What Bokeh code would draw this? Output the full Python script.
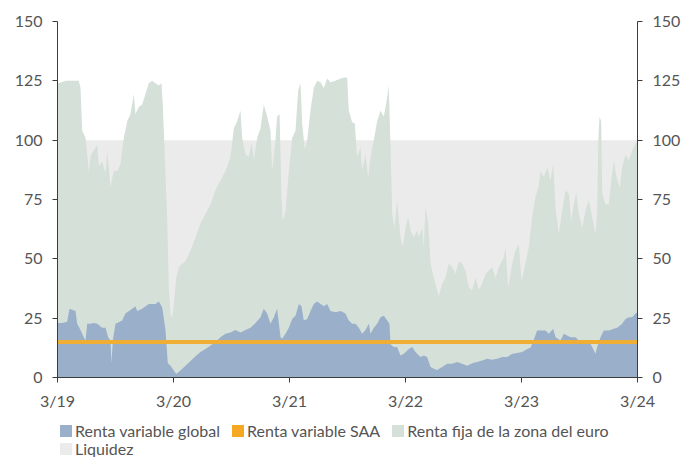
from bokeh.plotting import figure
from bokeh.layouts import column
from bokeh.models import LinearAxis, FixedTicker, Legend, LegendItem
from bokeh.embed import file_html
from bokeh.resources import INLINE

# ---- data (months since March 2019) ----
x_tick_months = [0, 12, 24, 36, 48, 60]
x_tick_labels = ["3/19", "3/20", "3/21", "3/22", "3/23", "3/24"]
y_ticks = [0, 25, 50, 75, 100, 125, 150]

liquidez_m = [0, 60]
liquidez_v = [100, 100]

saa_m = [0, 60]
saa_v = [15, 15]

fija_m = [0.0, 0.13, 0.83, 1.52, 2.2, 2.38, 2.56, 2.9, 3.07, 3.24, 3.41, 3.76, 4.11, 4.27, 4.62,
          4.97, 5.14, 5.31, 5.48, 5.66, 5.82, 6.18, 6.52, 6.86, 7.21, 7.55, 7.89, 8.07, 8.41,
          8.76, 9.1, 9.44, 9.8, 10.14, 10.48, 10.76, 10.89, 11.1, 11.35, 11.51, 11.69, 11.87,
          12.03, 12.28, 12.55, 12.9, 13.24, 13.76, 14.28, 14.79, 15.31, 15.83, 16.34, 16.86,
          17.38, 17.9, 18.24, 18.59, 18.93, 19.1, 19.45, 19.79, 20.07, 20.31, 20.66, 21.0,
          21.34, 21.69, 22.03, 22.21, 22.55, 22.72, 22.97, 23.17, 23.31, 23.59, 23.93, 24.28,
          24.62, 24.9, 25.14, 25.31, 25.58, 25.83, 26.17, 26.51, 26.86, 27.21, 27.55, 27.9,
          28.24, 28.76, 29.28, 29.79, 29.97, 30.13, 30.48, 30.75, 31.0, 31.34, 31.52, 31.86,
          32.14, 32.38, 32.72, 33.07, 33.41, 33.76, 34.11, 34.27, 34.45, 34.62, 34.86, 35.14,
          35.48, 35.72, 36.0, 36.28, 36.52, 36.86, 37.21, 37.38, 37.72, 37.89, 38.07, 38.35,
          38.59, 38.93, 39.28, 39.44, 39.79, 40.14, 40.48, 40.83, 41.17, 41.51, 41.86, 42.21,
          42.55, 42.9, 43.24, 43.58, 43.93, 44.28, 44.62, 44.97, 45.31, 45.65, 46.17, 46.34,
          46.62, 47.04, 47.38, 47.72, 48.0, 48.41, 48.76, 49.1, 49.45, 49.79, 49.97, 50.31,
          50.66, 51.0, 51.28, 51.52, 51.86, 52.21, 52.55, 52.9, 53.14, 53.41, 53.66, 53.93,
          54.28, 54.62, 54.96, 55.31, 55.66, 55.83, 55.95, 56.07, 56.24, 56.35, 56.69, 57.03,
          57.38, 57.55, 57.83, 58.17, 58.41, 58.76, 59.1, 59.45, 59.79, 60.0]
fija_v = [124.5, 124, 125, 125, 125, 122, 104, 101, 94, 86.5, 93, 96, 98, 89, 91,
          86, 95, 89, 80, 84, 87, 87, 90, 101, 108, 111, 119.5, 111, 114,
          115, 119.5, 124, 125, 124, 123, 124, 115, 94, 66, 38, 27, 25,
          31, 42, 46.5, 48, 49, 53.5, 59, 65, 69, 73, 79, 83,
          87, 93, 105, 108, 112.5, 101, 94, 93, 99, 92, 101, 105,
          115, 110, 104, 87, 100, 110, 111, 76, 66, 70, 87, 101,
          104, 121, 124, 107, 96, 100, 112.5, 122, 125, 124.4, 122, 126,
          124.4, 125, 126, 126.5, 126, 112.5, 107.6, 107, 93, 97, 87, 94,
          84, 93, 100, 108, 112.5, 110, 118, 123, 97, 69, 63, 74.6,
          59, 55, 63, 67.5, 62, 59, 62, 59, 63, 55, 71.6, 65,
          48, 42, 36.7, 34, 39.5, 42, 48, 46.5, 43.7, 49, 48, 45,
          38, 36.7, 42, 37, 39.5, 43.7, 45, 46.5, 42, 46.5, 50.7, 55,
          38, 48, 53.5, 56, 40.7, 48, 55, 68, 76, 81, 87, 84.4,
          88.6, 83, 90, 71.6, 60.5, 70.5, 78.7, 77.4, 66, 73, 78, 69,
          63, 70.5, 74.6, 67.5, 60.5, 70, 100, 110, 108, 77.4, 73, 73,
          86, 91.4, 84.4, 80, 88.6, 94, 91.4, 95.6, 98.5, 100]

global_m = [0.0, 0.49, 1.0, 1.24, 1.86, 2.04, 2.38, 2.72, 2.9, 3.07, 3.41, 3.76, 4.11, 4.62,
            4.97, 5.24, 5.48, 5.59, 5.72, 6.0, 6.69, 7.03, 7.73, 8.07, 8.24, 8.76, 9.44,
            10.14, 10.48, 10.83, 11.17, 11.41, 11.69, 12.03, 12.28, 12.72, 13.24, 13.76,
            14.28, 14.79, 15.31, 15.83, 16.34, 16.86, 17.38, 17.9, 18.41, 18.93, 19.45,
            19.97, 20.48, 21.0, 21.34, 21.69, 22.03, 22.38, 22.72, 23.07, 23.24, 23.59,
            23.93, 24.28, 24.62, 24.97, 25.24, 25.48, 25.83, 26.17, 26.51, 26.86, 27.21,
            27.55, 27.9, 28.24, 28.76, 29.28, 29.79, 30.13, 30.48, 30.83, 31.17, 31.52,
            31.86, 32.21, 32.38, 32.72, 33.07, 33.41, 33.76, 34.11, 34.34, 34.45, 34.79,
            35.14, 35.48, 35.83, 36.34, 36.69, 37.03, 37.55, 37.89, 38.24, 38.59, 38.93,
            39.28, 39.79, 40.31, 40.83, 41.35, 41.86, 42.38, 42.9, 43.41, 43.93, 44.45,
            44.97, 45.48, 46.0, 46.52, 47.04, 47.55, 48.07, 48.59, 48.93, 49.28, 49.62,
            50.14, 50.48, 50.83, 51.28, 51.52, 52.03, 52.38, 52.72, 53.07, 53.59, 53.93,
            54.28, 54.62, 54.96, 55.31, 55.66, 55.83, 56.17, 56.52, 57.03, 57.55, 57.9,
            58.41, 58.76, 59.1, 59.45, 59.79, 60.0]
global_v = [23, 23, 23.5, 29, 28, 22.6, 20, 17, 15.6, 22.6, 22.6, 23, 22.6, 21,
            21, 17, 15.6, 6, 15.6, 22.6, 24, 27, 29, 30, 28, 29, 31,
            31, 32, 29.6, 20, 6, 5, 3, 1.5, 3, 5, 7,
            9, 10.7, 12, 13.5, 15, 17, 18.4, 19, 20, 19, 20,
            21, 23, 25.4, 29, 27, 22.6, 25.4, 29, 17, 16.3, 18.4,
            21, 24.7, 26, 31, 30, 24, 24.7, 28, 31, 32, 31,
            30, 31, 28, 27.5, 28, 27, 24, 22.6, 22.6, 21, 18.4,
            20, 22.6, 18.4, 21, 22.6, 25.4, 26, 24, 22.6, 14, 12.8,
            12.8, 9.3, 10, 12, 12.8, 10.7, 8.6, 9.3, 8.6, 4.4, 3.7,
            3.2, 4.4, 5.8, 5.8, 6.5, 5.8, 5, 6, 6.5, 7.2, 7.9,
            7.5, 7.9, 8.6, 8.6, 10, 10.3, 10.7, 12, 12.5, 16, 19.8,
            19.8, 19.8, 18.4, 20.5, 17, 15.6, 18.4, 17.7, 17, 17, 15.6,
            14.2, 14.8, 15.6, 12.8, 10, 12.8, 17, 19.8, 19.8, 20.5, 21,
            22.6, 24.7, 25.4, 25.4, 27, 27.5]

FONT = "Lato"
TEXT = "#555555"
AXIS = "#3c3c3c"
C_LIQ = "#ebebeb"
C_FIJA = "#d5e0d8"
C_GLOB = "#9aafca"
C_SAA = "#f0ae35"
C_SAA_KEY = "#f7a823"

p = figure(frame_width=580, frame_height=356, x_range=(0, 60), y_range=(0, 150),
           output_backend="svg", toolbar_location=None,
           min_border_left=57, min_border_right=49, min_border_top=21, min_border_bottom=32,
           outline_line_color=None, background_fill_color="white", border_fill_color="white")
p.xgrid.visible = False
p.ygrid.visible = False

p.varea(x=liquidez_m, y1=[0, 0], y2=liquidez_v, fill_color=C_LIQ)
p.varea(x=fija_m, y1=[0] * len(fija_m), y2=fija_v, fill_color=C_FIJA)
p.varea(x=global_m, y1=[0] * len(global_m), y2=global_v, fill_color=C_GLOB)
p.line(x=saa_m, y=saa_v, line_color=C_SAA, line_width=4)


def style_axis(ax):
    ax.axis_line_color = AXIS
    ax.axis_line_width = 1
    ax.major_tick_line_color = AXIS
    ax.major_tick_out = 5
    ax.major_tick_in = 0
    ax.minor_tick_line_color = None
    ax.major_label_text_font = FONT
    ax.major_label_text_font_size = "16px"
    ax.major_label_text_color = TEXT


yl = p.yaxis[0]
yl.ticker = FixedTicker(ticks=y_ticks)
yl.major_label_standoff = 10
style_axis(yl)

yr = LinearAxis(ticker=FixedTicker(ticks=y_ticks))
yr.major_label_standoff = 10
style_axis(yr)
p.add_layout(yr, "right")

xa = p.xaxis[0]
xa.ticker = FixedTicker(ticks=x_tick_months)
xa.major_label_overrides = {m: lab for m, lab in zip(x_tick_months, x_tick_labels)}
xa.major_label_standoff = 8
style_axis(xa)

# ---- legend strip below the chart (its frame lines up with the chart frame) ----
lg = figure(frame_width=580, height=48, x_range=(0, 1), y_range=(0, 1),
            output_backend="svg", toolbar_location=None,
            x_axis_location=None, y_axis_location=None,
            min_border_left=57, min_border_right=49, min_border_top=0, min_border_bottom=0,
            outline_line_color=None, background_fill_color="white", border_fill_color="white")
lg.xgrid.visible = False
lg.ygrid.visible = False


def key(color):
    # zero-area swatch renderer: only used to draw the legend key
    return lg.varea(x=[0], y1=[0], y2=[0], fill_color=color)


s_glob = key(C_GLOB)
s_saa = key(C_SAA_KEY)
s_fija = key(C_FIJA)
s_liq = key(C_LIQ)


def make_legend(items, loc):
    return Legend(items=items, location=loc, orientation="horizontal",
                  label_text_font=FONT, label_text_font_size="16px", label_text_color=TEXT,
                  glyph_width=15, glyph_height=15, label_standoff=2, spacing=10,
                  padding=0, margin=0, border_line_color=None, background_fill_alpha=0,
                  label_height=15)


leg1 = make_legend([
    LegendItem(label="Renta variable global", renderers=[s_glob]),
    LegendItem(label="Renta variable SAA", renderers=[s_saa]),
    LegendItem(label="Renta fija de la zona del euro", renderers=[s_fija]),
], (1, 20))
leg2 = make_legend([LegendItem(label="Liquidez", renderers=[s_liq])], (1, 2))
lg.add_layout(leg1, "center")
lg.add_layout(leg2, "center")

open("out.html", "w").write(file_html(column(p, lg, spacing=0), INLINE))
